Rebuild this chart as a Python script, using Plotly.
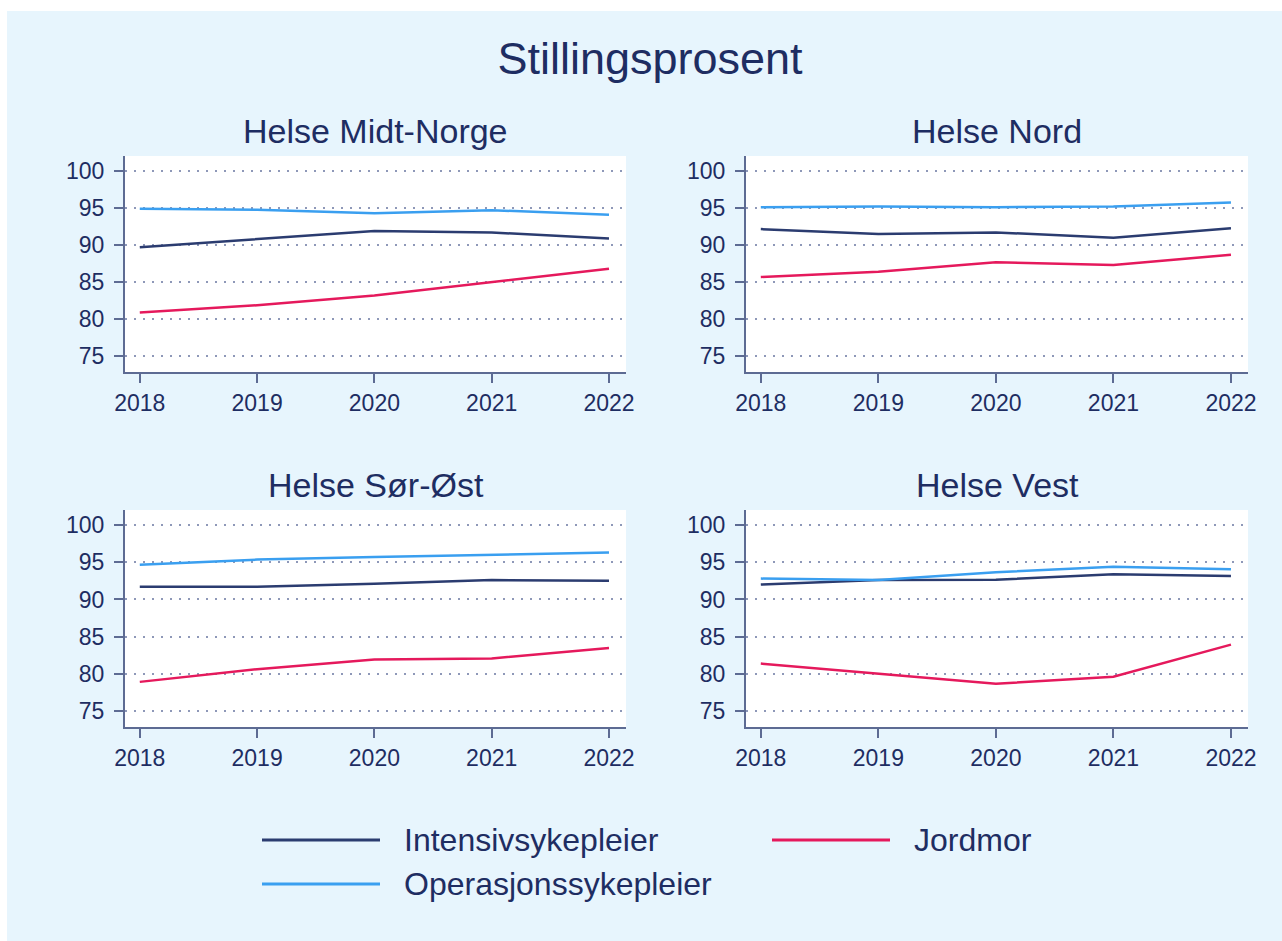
import plotly.graph_objects as go

# ---------------- data ----------------
years = [2018, 2019, 2020, 2021, 2022]
regions = ["Helse Midt-Norge", "Helse Nord", "Helse Sør-Øst", "Helse Vest"]
series_names = ["Intensivsykepleier", "Jordmor", "Operasjonssykepleier"]

intensiv_midt = [89.7, 90.8, 91.9, 91.7, 90.9]
jordmor_midt = [80.9, 81.9, 83.2, 85.0, 86.8]
operasjon_midt = [94.9, 94.75, 94.3, 94.7, 94.1]

intensiv_nord = [92.15, 91.5, 91.7, 91.0, 92.25]
jordmor_nord = [85.7, 86.4, 87.7, 87.3, 88.7]
operasjon_nord = [95.1, 95.2, 95.1, 95.2, 95.75]

intensiv_sorost = [91.7, 91.7, 92.1, 92.6, 92.5]
jordmor_sorost = [78.95, 80.65, 81.95, 82.1, 83.5]
operasjon_sorost = [94.65, 95.35, 95.7, 96.05, 96.3]

intensiv_vest = [92.0, 92.6, 92.65, 93.4, 93.15]
jordmor_vest = [81.4, 80.05, 78.7, 79.65, 83.95]
operasjon_vest = [92.8, 92.6, 93.65, 94.4, 94.05]

y_ticks = [75, 80, 85, 90, 95, 100]
x_ticks = years

# ---------------- style ----------------
W, H = 1282, 941
BG = "#e7f5fd"
TEXT = "#1e2d62"
AXIS = "#5d6b93"
GRID = "#8e98b8"
colors = {"Intensivsykepleier": "#2b3c70",
          "Jordmor": "#e5195c",
          "Operasjonssykepleier": "#3a9ff0"}
FONT = "Liberation Sans, Arial, sans-serif"

region_data = [
    (intensiv_midt, jordmor_midt, operasjon_midt),
    (intensiv_nord, jordmor_nord, operasjon_nord),
    (intensiv_sorost, jordmor_sorost, operasjon_sorost),
    (intensiv_vest, jordmor_vest, operasjon_vest),
]

def px_x(p):
    return p / W

def px_y(p):
    return 1 - p / H

x_domains = [[px_x(125), px_x(626)], [px_x(746), px_x(1248)]]
y_domains = [[px_y(372), px_y(156)], [px_y(727), px_y(510)]]

fig = go.Figure()

layout_axes = {}
annotations = []
for i, (region, data) in enumerate(zip(regions, region_data)):
    col = i % 2
    row = i // 2
    n = "" if i == 0 else str(i + 1)
    xa = "x" + n
    ya = "y" + n
    for name, vals in zip(series_names, data):
        fig.add_trace(go.Scatter(
            x=years, y=vals, mode="lines", name=name,
            line=dict(color=colors[name], width=2.5),
            xaxis=xa, yaxis=ya, showlegend=False, hoverinfo="skip",
        ))
    layout_axes["xaxis" + n] = dict(
        domain=x_domains[col], anchor=ya, range=[2017.874, 2022.145],
        tickvals=x_ticks, ticktext=[str(v) for v in x_ticks],
        showgrid=False, zeroline=False, showline=True, linecolor=AXIS,
        linewidth=2, ticks="outside", ticklen=9, tickwidth=2, tickcolor=AXIS,
        tickfont=dict(size=23, color=TEXT, family=FONT), automargin=False,
    )
    layout_axes["yaxis" + n] = dict(
        domain=y_domains[row], anchor=xa, range=[72.9, 102.0],
        tickvals=y_ticks, ticktext=[str(v) for v in y_ticks],
        showgrid=True, gridcolor=GRID, griddash="2px,7px", gridwidth=1.5,
        zeroline=False, showline=True, linecolor=AXIS,
        linewidth=2, ticks="outside", ticklen=9, tickwidth=2, tickcolor=AXIS,
        ticklabelstandoff=5, automargin=False,
        tickfont=dict(size=23, color=TEXT, family=FONT),
    )
    annotations.append(dict(
        text=region, xref="paper", yref="paper",
        x=sum(x_domains[col]) / 2, y=y_domains[row][1] + 4 / H,
        xanchor="center", yanchor="bottom", showarrow=False,
        font=dict(size=34, color=TEXT, family=FONT),
    ))

# ---------------- manual legend ----------------
legend_items = [
    ("Intensivsykepleier", 262, 840),
    ("Jordmor", 772, 840),
    ("Operasjonssykepleier", 262, 884),
]
shapes = [
    # white page border at the left and top
    dict(type="rect", xref="paper", yref="paper", x0=0, x1=px_x(7), y0=0, y1=1,
         fillcolor="white", line=dict(width=0), layer="below"),
    dict(type="rect", xref="paper", yref="paper", x0=0, x1=1, y0=px_y(11), y1=1,
         fillcolor="white", line=dict(width=0), layer="below"),
]
for name, lx, ly in legend_items:
    shapes.append(dict(
        type="line", xref="paper", yref="paper",
        x0=px_x(lx), x1=px_x(lx + 118), y0=px_y(ly), y1=px_y(ly),
        line=dict(color=colors[name], width=3),
    ))
    annotations.append(dict(
        text=name, xref="paper", yref="paper",
        x=px_x(lx + 140), y=px_y(ly), xanchor="left", yanchor="middle",
        showarrow=False, font=dict(size=32, color=TEXT, family=FONT),
    ))

fig.update_layout(
    width=W, height=H,
    margin=dict(l=0, r=0, t=0, b=0, pad=0, autoexpand=False),
    paper_bgcolor=BG, plot_bgcolor="white",
    title=dict(text="Stillingsprosent", x=px_x(650), y=px_y(58),
               xanchor="center", yanchor="middle",
               font=dict(size=45, color=TEXT, family=FONT)),
    annotations=annotations, shapes=shapes,
    showlegend=False, hovermode=False,
    **layout_axes,
)

fig.write_html(
    "out.html",
    config={"displayModeBar": False},
    post_script="document.body.style.margin='0';document.body.style.overflow='hidden';",
)
